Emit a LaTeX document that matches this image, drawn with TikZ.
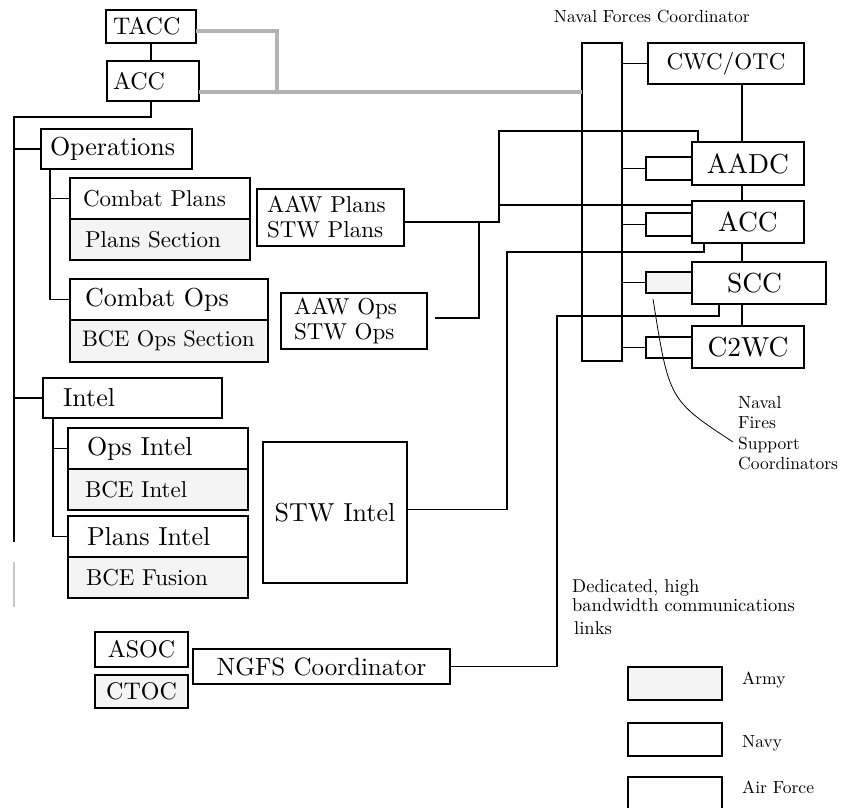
\documentclass[tikz,border=0pt]{standalone}
\usepackage{fontspec}
\setmainfont{lmroman10-regular.otf}
\definecolor{armyfill}{HTML}{F4F4F4}
\definecolor{linkgray}{HTML}{B3B3B3}
\definecolor{stubgray}{HTML}{C8C8C8}
\begin{document}
\begin{tikzpicture}[x=1pt, y=-1pt,
    orgbox/.style={draw, line width=2.2pt, fill=white, anchor=north west,
      inner ysep=0pt, outer sep=0pt, align=left},
    armybox/.style={orgbox, fill=armyfill},
    link/.style={line width=1.8pt},
    airlink/.style={line width=4pt, draw=linkgray},
    notetext/.style={inner sep=0pt, align=left, font=\fontsize{17.5}{20.5}\selectfont},
    txtbig/.style={font=\fontsize{24}{25}\selectfont},
    txtmid/.style={font=\fontsize{26}{27}\selectfont},
    txtsmall/.style={font=\fontsize{23}{25}\selectfont},
    txthuge/.style={font=\fontsize{27.5}{29}\selectfont}]
  \useasboundingbox (0,0) rectangle (855,807);
  % air force / army side
  \node[orgbox, txtbig, minimum height=33pt, inner xsep=7pt, text width=76pt] (tacc) at (106,10) {TACC};
  \node[orgbox, txtbig, minimum height=40pt, inner xsep=6pt, text width=80pt] (acc) at (107,61) {ACC};
  \node[orgbox, txtmid, minimum height=40pt, inner xsep=9pt, text width=133pt] (ops) at (41,129) {Operations};
  \node[orgbox, txtsmall, minimum height=41pt, inner xsep=13pt, text width=154pt] (cplans) at (70,178) {Combat Plans};
  \node[armybox, txtsmall, minimum height=41pt, inner xsep=15pt, text width=150pt] (psec) at (70,219) {Plans Section};
  \node[orgbox, txtmid, minimum height=41pt, inner xsep=15pt, text width=168pt] (cops) at (70,279) {Combat Ops};
  \node[armybox, font=\fontsize{22.5}{24}\selectfont, minimum height=42pt, inner xsep=12pt, text width=174pt] (bceops) at (70,320) {BCE Ops Section};
  \node[orgbox, txtmid, minimum height=40pt, inner xsep=20pt, text width=139pt] (intel) at (43,378) {Intel};
  \node[orgbox, txtmid, minimum height=41pt, inner xsep=19pt, text width=142pt] (opsintel) at (68,428) {Ops Intel};
  \node[armybox, txtsmall, minimum height=41pt, inner xsep=17pt, text width=146pt] (bceintel) at (68,469) {BCE Intel};
  \node[orgbox, txtmid, minimum height=41pt, inner xsep=19pt, text width=142pt] (plintel) at (68,516) {Plans Intel};
  \node[armybox, txtsmall, minimum height=41pt, inner xsep=18pt, text width=144pt] (bcefusion) at (68,557) {BCE Fusion};
  \node[orgbox, txtsmall, minimum height=57pt, inner xsep=10pt, text width=127pt] (aawplans) at (257,189) {AAW Plans\\STW Plans};
  \node[orgbox, txtsmall, minimum height=56pt, inner xsep=13pt, text width=120pt] (aawops) at (281,293) {AAW Ops\\STW Ops};
  \node[orgbox, txtmid, minimum width=144pt, minimum height=141pt] (stwintel) at (263,442) {STW Intel};
  \node[orgbox, txtbig, minimum width=93pt, minimum height=35pt] (asoc) at (95,632) {ASOC};
  \node[armybox, txtbig, minimum width=93pt, minimum height=33pt] (ctoc) at (95,675) {CTOC};
  \node[orgbox, font=\fontsize{25}{26}\selectfont, minimum width=257pt, minimum height=35pt] (ngfs) at (193,649) {NGFS Coordinator};
  % navy side
  \node[orgbox, minimum width=40pt, minimum height=318pt, inner sep=0pt] (naval) at (582,43) {};
  \node[orgbox, font=\fontsize{23}{24}\selectfont, minimum width=156pt, minimum height=41pt] (cwc) at (648,43) {CWC/OTC};
  \node[orgbox, minimum width=46pt, minimum height=23pt, inner sep=0pt] (aadcs) at (646,157) {};
  \node[orgbox, minimum width=46pt, minimum height=23pt, inner sep=0pt] (accs) at (646,213) {};
  \node[armybox, minimum width=46pt, minimum height=21pt, inner sep=0pt] (sccs) at (646,272) {};
  \node[orgbox, minimum width=46pt, minimum height=21pt, inner sep=0pt] (c2wcs) at (646,337) {};
  \node[orgbox, txthuge, minimum width=112pt, minimum height=43pt] (aadc) at (692,142) {AADC};
  \node[orgbox, txthuge, minimum width=112pt, minimum height=42pt] (accn) at (692,201) {ACC};
  \node[orgbox, txthuge, minimum height=42pt, inner xsep=35pt, text width=64pt] (scc) at (692,262) {SCC};
  \node[orgbox, txthuge, minimum width=112pt, minimum height=42pt] (c2wc) at (692,326) {C2WC};
  % texts
  \node[notetext, anchor=base east] (nfctitle) at (750,22) {Naval Forces Coordinator};
  \node[notetext, anchor=north west] (nfsc) at (738,396) {Naval\\Fires\\Support\\Coordinators};
  \node[notetext, anchor=north west, font=\fontsize{18.5}{19}\selectfont] (linknote) at (572,579)
    {Dedicated, high\\bandwidth communications\\[4pt]\hspace*{2pt}links};
  % legend
  \node[armybox, minimum width=94pt, minimum height=33pt, inner sep=0pt] (army) at (628,667) {};
  \node[orgbox, minimum width=94pt, minimum height=33pt, inner sep=0pt] (navy) at (628,723) {};
  \node[orgbox, minimum width=94pt, minimum height=33pt, inner sep=0pt] (airforce) at (628,777) {};
  \node[notetext, anchor=base west] (armylabel) at (742,684) {Army};
  \node[notetext, anchor=base west] (navylabel) at (742,747) {Navy};
  \node[notetext, anchor=base west] (aflabel) at (742,793) {Air Force};

  % left tree
  \coordinate (trunk) at (14,542);
  \coordinate (opsdrop) at (50,169);
  \coordinate (inteldrop) at (53,418);
  \draw[link] (tacc.south) -- (tacc.south |- acc.north);
  \draw[link] ([xshift=-2pt]acc.south) -- ++(0,16) -| (trunk);
  \draw[link] (ops.west) -- (ops.west -| trunk);
  \draw[link] (intel.west) -- (intel.west -| trunk);
  \draw[link] (opsdrop) |- (cops.west);
  \draw[link] (opsdrop |- cplans.west) -- (cplans.west);
  \draw[link] (inteldrop) |- (plintel.west);
  \draw[link] (inteldrop |- opsintel.west) -- (opsintel.west);
  \draw[line width=2pt, stubgray] (14,562) -- (14,607);

  % gray links to the naval coordinator
  \coordinate (airjoin) at (277,92);
  \draw[airlink] ([yshift=-4.5pt]tacc.east) -| (airjoin);
  \draw[airlink] ([yshift=-11pt]acc.east) -- (airjoin -| naval.west);

  % naval column
  \coordinate (spine) at (742,0);
  \draw[link] (naval.east |- cwc.west) -- (cwc.west);
  \foreach \s in {aadcs, accs, sccs, c2wcs}
    \draw[link] (naval.east |- \s.west) -- (\s.west);
  \foreach \a/\b in {cwc/aadc, aadc/accn, accn/scc, scc/c2wc}
    \draw[link] (\a.south -| spine) -- (\b.north -| spine);

  % links across
  \coordinate (planline) at ([yshift=-4.5pt]aawplans.east);
  \coordinate (planbus) at (499,131);
  \coordinate (opsbus) at (479,0);
  \coordinate (aadcin) at ([xshift=-50pt]aadc.north);
  \coordinate (accin) at ([yshift=-4pt]accn.north west);
  \draw[link] (planline) -| (planbus) -| (aadcin);
  \draw[link] (accin) -- (accin -| planbus);
  \draw[link] ([xshift=8pt,yshift=3pt]aawops.east) -| (planline -| opsbus);
  \coordinate (intelbus) at (507,252);
  \coordinate (accout) at ([xshift=-44pt]accn.south);
  \draw[link] ([yshift=3pt]stwintel.east) -| (intelbus) -| (accout);
  \coordinate (ngfsbus) at (557,316);
  \coordinate (sccout) at ([xshift=-40pt]scc.south);
  \draw[link] (ngfs.east) -| (ngfsbus) -| (sccout);

  % pointer to the fires coordinators
  \coordinate (nfstip) at (653,299);
  \coordinate (nfsend) at (733,442);
  \draw[line width=0.8pt] (nfstip) .. controls (669,400) .. (nfsend);
\end{tikzpicture}
\end{document}
